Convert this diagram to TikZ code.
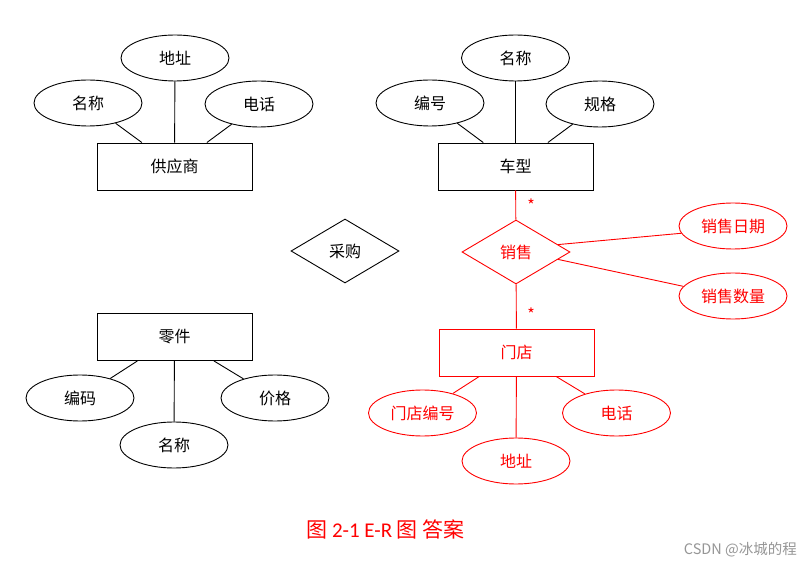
\documentclass[tikz,border=0pt]{standalone}
\usepackage{fontspec}
\setmainfont{Noto Sans CJK SC}
\newfontfamily\capfont{Carlito}
\usetikzlibrary{shapes.geometric}
\definecolor{erred}{RGB}{255,0,0}
\definecolor{wmgray}{RGB}{150,150,150}
\tikzset{
  ent/.style={draw, rectangle, minimum width=155pt, minimum height=47pt, inner sep=0pt, line width=0.9pt, font=\fontsize{16}{18}\selectfont},
  attr/.style={draw, ellipse, minimum width=108pt, minimum height=46pt, inner sep=0pt, line width=0.9pt, font=\fontsize{16}{18}\selectfont},
  rel/.style={draw, diamond, minimum width=108pt, minimum height=64pt, shape aspect=1.69, inner sep=0pt, line width=0.9pt, font=\fontsize{16}{18}\selectfont},
  conn/.style={line width=0.9pt},
  redc/.style={erred, text=erred},
  star/.style={text=erred, font=\fontsize{16}{16}\selectfont, inner sep=0pt}
}
\begin{document}
\begin{tikzpicture}[x=1pt,y=-1pt]
\useasboundingbox[fill=white] (0,0) rectangle (812,569);
% supplier
\node[ent] (sup) at (174.5,166.5) {供应商};
\node[attr] (supaddr) at (175,58) {地址};
\node[attr] (supname) at (88,103) {名称};
\node[attr] (suptel) at (259,104) {电话};
\draw[conn] (supname) -- (sup);
\draw[conn] (supaddr) -- (sup);
\draw[conn] (suptel) -- (sup);
% car model
\node[ent] (car) at (515.5,166.5) {车型};
\node[attr] (carname) at (515.5,58) {名称};
\node[attr] (carno) at (430,103) {编号};
\node[attr] (carspec) at (600,104) {规格};
\draw[conn] (carno) -- (car);
\draw[conn] (carname) -- (car);
\draw[conn] (carspec) -- (car);
% purchase
\node[rel] (buy) at (345,251) {采购};
% parts
\node[ent] (part) at (174.5,337) {零件};
\node[attr] (partcode) at (80,398) {编码};
\node[attr] (partname) at (174,445) {名称};
\node[attr] (partprice) at (275,398) {价格};
\draw[conn] (partcode) -- (part);
\draw[conn] (partname) -- (part);
\draw[conn] (partprice) -- (part);
% sale (red)
\node[rel, redc] (sale) at (516,252) {销售};
\node[attr, redc] (sdate) at (733,226) {销售日期};
\node[attr, redc] (sqty) at (733,296) {销售数量};
\node[ent, redc] (shop) at (516.5,352.5) {门店};
\node[attr, redc] (shopno) at (422.5,413) {门店编号};
\node[attr, redc] (shopaddr) at (516,461) {地址};
\node[attr, redc] (shoptel) at (616.5,413) {电话};
\draw[conn, erred] (car) -- (sale);
\draw[conn, erred] (sale) -- (shop);
\draw[conn, erred] (sale.10) -- (sdate.188);
\draw[conn, erred] (sale.-10) -- (sqty.169);
\draw[conn, erred] (shopno) -- (shop);
\draw[conn, erred] (shopaddr) -- (shop);
\draw[conn, erred] (shoptel) -- (shop);
\node[star] (s1) at (531,205) {*};
\node[star] (s2) at (531,314) {*};
% caption
\node[text=erred, font=\fontsize{21}{24}\selectfont, inner sep=0pt] (cap) at (385.5,529) {图 {\capfont 2-1 E-R} 图 答案};
\node[text=wmgray, font=\fontsize{14.5}{16}\selectfont, inner sep=0pt, anchor=east] (wm) at (797,550) {CSDN @冰城的程};
\end{tikzpicture}
\end{document}
